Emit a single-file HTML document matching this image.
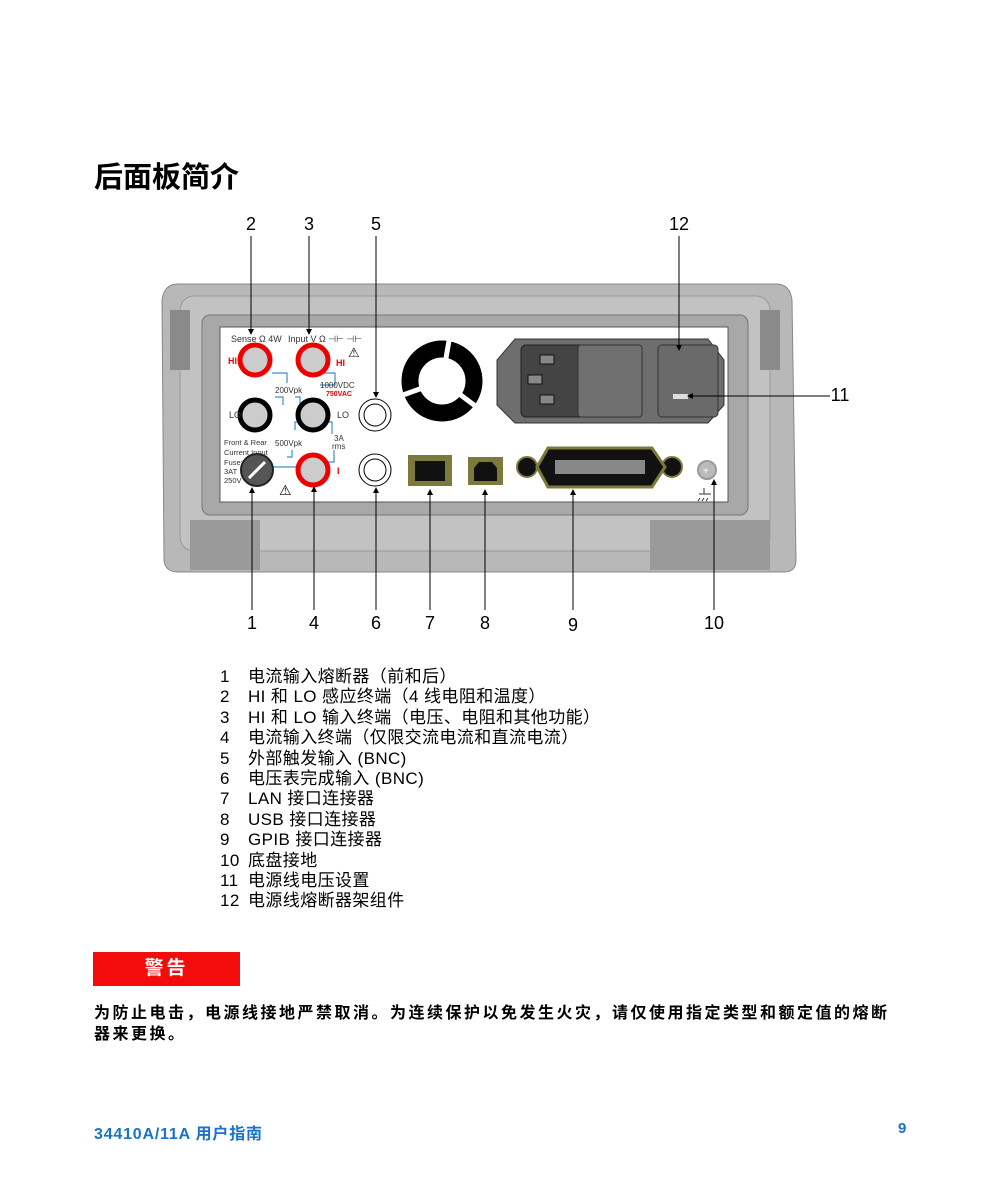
<!DOCTYPE html>
<html><head><meta charset="utf-8"><style>
body{margin:0;background:#fff;width:1000px;height:1200px;position:relative;overflow:hidden;font-family:"Liberation Sans","Noto Sans CJK SC",sans-serif}
.t{position:absolute}
.list{position:absolute;left:220px;top:667px;font-size:17px;line-height:20.4px;letter-spacing:0.4px;font-family:"Liberation Sans Narrow","Liberation Sans","Noto Sans CJK SC",sans-serif}
.list div span{display:inline-block;width:28px}
</style></head><body>
<div class="t" style="left:94px;top:154px;font-size:29px;font-weight:bold;font-family:'Noto Sans CJK SC',sans-serif">后面板简介</div>
<svg class="t" style="left:0;top:0" width="1000" height="650" font-family="Liberation Sans,sans-serif">
<defs><marker id="a" markerWidth="6" markerHeight="6" refX="3" refY="3" orient="auto"><path d="M0,0L6,3L0,6z" fill="#000"/></marker></defs>
<path d="M178,284 H776 Q790,284 792,300 L796,560 Q796,572 784,572 H178 Q165,572 164,560 L162,300 Q164,284 178,284Z" fill="#b8b8b8" stroke="#888"/>
<rect x="180" y="296" width="590" height="255" rx="14" fill="#c2c2c2" stroke="#999"/>
<rect x="202" y="315" width="546" height="200" rx="8" fill="#a8a8a8" stroke="#777"/>
<rect x="220" y="327" width="508" height="175" fill="#fff" stroke="#556" />
<rect x="190" y="520" width="70" height="50" fill="#9a9a9a"/><rect x="650" y="520" width="120" height="50" fill="#9a9a9a"/>
<rect x="170" y="310" width="20" height="60" fill="#8a8a8a"/><rect x="760" y="310" width="20" height="60" fill="#8a8a8a"/>
<text x="231" y="342" font-size="9" fill="#333">Sense  Ω 4W</text>
<text x="288" y="342" font-size="9" fill="#333">Input  V Ω ⊣⊢ ⊣⊢</text>
<text x="348" y="357" font-size="13">⚠</text>
<g stroke="#3a8fd0" fill="none" stroke-width="1.2"><path d="M272,373h15v10M283,405v-8h-8M295,397h5v8M322,373h13v12h-15M295,430v-8h8M320,422h12v12M287,457h5v-7M328,462h6v-12M272,467h25"/></g>
<circle cx="255" cy="360" r="15" fill="#ccc" stroke="#e00" stroke-width="5"/>
<circle cx="313" cy="360" r="15" fill="#ccc" stroke="#e00" stroke-width="5"/>
<circle cx="255" cy="415" r="15" fill="#ccc" stroke="#000" stroke-width="5"/>
<circle cx="313" cy="415" r="15" fill="#ccc" stroke="#000" stroke-width="5"/>
<circle cx="313" cy="470" r="15" fill="#ccc" stroke="#e00" stroke-width="5"/>
<circle cx="257" cy="470" r="16" fill="#555" stroke="#222" stroke-width="2"/><line x1="249" y1="478" x2="265" y2="462" stroke="#fff" stroke-width="3"/>
<text x="228" y="364" font-size="9" fill="#e00" font-weight="bold">HI</text><text x="336" y="366" font-size="9" fill="#e00" font-weight="bold">HI</text>
<text x="229" y="418" font-size="9" fill="#333">LO</text><text x="337" y="418" font-size="9" fill="#333">LO</text>
<text x="337" y="474" font-size="9" fill="#e00" font-weight="bold">I</text>
<text x="275" y="393" font-size="8" fill="#333">200Vpk</text>
<text x="320" y="388" font-size="8" fill="#333">1000VDC</text><text x="326" y="396" font-size="7" fill="#e00" font-weight="bold">750VAC</text>
<text x="275" y="446" font-size="8" fill="#333">500Vpk</text>
<text x="334" y="441" font-size="8" fill="#333">3A</text><text x="332" y="449" font-size="8" fill="#333">rms</text>
<text x="224" y="445" font-size="7.5" fill="#333">Front &amp; Rear</text><text x="224" y="455" font-size="7.5" fill="#333">Current Input</text>
<text x="224" y="465" font-size="7.5" fill="#333">Fuse:</text><text x="224" y="474" font-size="7.5" fill="#333">3AT</text><text x="224" y="483" font-size="7.5" fill="#333">250V</text>
<text x="279" y="495" font-size="14">⚠</text>
<g fill="#fff" stroke="#000"><circle cx="375" cy="415" r="16"/><circle cx="375" cy="415" r="11"/><circle cx="375" cy="470" r="16"/><circle cx="375" cy="470" r="11"/></g>
<circle cx="442" cy="381" r="32" fill="none" stroke="#000" stroke-width="17"/>
<g stroke="#fff" stroke-width="5"><line x1="442" y1="381" x2="450" y2="335"/><line x1="442" y1="381" x2="403" y2="395"/><line x1="442" y1="381" x2="478" y2="408"/></g>
<path d="M515,339H708L724,360V405L708,423H515L497,405V360Z" fill="#6e6e6e" stroke="#333"/>
<rect x="521" y="345" width="63" height="72" rx="5" fill="#444" stroke="#222"/>
<g fill="#888" stroke="#111"><rect x="540" y="355" width="14" height="9"/><rect x="528" y="375" width="14" height="9"/><rect x="540" y="395" width="14" height="9"/></g>
<rect x="578" y="345" width="64" height="72" rx="3" fill="#707070" stroke="#333"/>
<rect x="658" y="345" width="60" height="72" rx="4" fill="#6a6a6a" stroke="#333"/>
<rect x="673" y="394" width="15" height="5" fill="#ddd"/>
<rect x="408" y="455" width="44" height="31" fill="#7b7a3b"/><rect x="415" y="461" width="30" height="20" fill="#111"/>
<rect x="468" y="457" width="35" height="28" fill="#7b7a3b"/><path d="M474,481V468L479,462H492L497,468V481Z" fill="#111"/>
<circle cx="527" cy="467" r="10" fill="#111" stroke="#7b7a3b" stroke-width="2"/><circle cx="672" cy="467" r="10" fill="#111" stroke="#7b7a3b" stroke-width="2"/>
<path d="M548,448H652L665,467L652,487H548L537,467Z" fill="#111" stroke="#7b7a3b" stroke-width="3"/>
<rect x="555" y="460" width="90" height="14" fill="#888"/>
<circle cx="707" cy="470" r="9" fill="#bbb" stroke="#999" stroke-width="2"/><text x="703" y="474" font-size="10" fill="#fff">+</text>
<path d="M704,488v6M699,494h12M700,498l-2,3M704,498l-2,3M708,498l-2,3" stroke="#333" fill="none"/>
<g stroke="#000" stroke-width="1" marker-end="url(#a)">
<line x1="251" y1="236" x2="251" y2="332"/><line x1="309" y1="236" x2="309" y2="332"/><line x1="376" y1="236" x2="376" y2="395"/><line x1="679" y1="236" x2="679" y2="348"/>
<line x1="830" y1="396" x2="690" y2="396"/>
<line x1="252" y1="610" x2="252" y2="490"/><line x1="314" y1="610" x2="314" y2="489"/><line x1="376" y1="610" x2="376" y2="490"/><line x1="430" y1="610" x2="430" y2="492"/><line x1="485" y1="610" x2="485" y2="492"/><line x1="573" y1="610" x2="573" y2="492"/><line x1="714" y1="610" x2="714" y2="482"/>
</g>
<g font-size="18" text-anchor="middle" font-family="Liberation Sans Narrow,Liberation Sans,sans-serif">
<text x="251" y="230">2</text><text x="309" y="230">3</text><text x="376" y="230">5</text><text x="679" y="230">12</text><text x="840" y="401">11</text>
<text x="252" y="629">1</text><text x="314" y="629">4</text><text x="376" y="629">6</text><text x="430" y="629">7</text><text x="485" y="629">8</text><text x="573" y="631">9</text><text x="714" y="629">10</text>
</g>
</svg>
<div class="list">
<div><span>1</span>电流输入熔断器（前和后）</div>
<div><span>2</span>HI 和 LO 感应终端（4 线电阻和温度）</div>
<div><span>3</span>HI 和 LO 输入终端（电压、电阻和其他功能）</div>
<div><span>4</span>电流输入终端（仅限交流电流和直流电流）</div>
<div><span>5</span>外部触发输入 (BNC)</div>
<div><span>6</span>电压表完成输入 (BNC)</div>
<div><span>7</span>LAN 接口连接器</div>
<div><span>8</span>USB 接口连接器</div>
<div><span>9</span>GPIB 接口连接器</div>
<div><span>10</span>底盘接地</div>
<div><span>11</span>电源线电压设置</div>
<div><span>12</span>电源线熔断器架组件</div>
</div>
<div class="t" style="left:93px;top:952px;width:147px;height:34px;background:#f20c0c;color:#fff;font-weight:bold;font-size:19px;line-height:34px;text-align:center;letter-spacing:3px">警告</div>
<div class="t" style="left:94px;top:1001px;width:880px;font-size:16px;font-weight:bold;line-height:21px;letter-spacing:2.5px;font-family:'Noto Sans CJK SC',sans-serif">为防止电击，电源线接地严禁取消。为连续保护以免发生火灾，请仅使用指定类型和额定值的熔断<br>器来更换。</div>
<div class="t" style="left:94px;top:1120px;font-size:16px;font-weight:bold;color:#1a73c8;letter-spacing:0.8px;font-family:'Liberation Sans Narrow','Liberation Sans','Noto Sans CJK SC',sans-serif">34410A/11A 用户指南</div>
<div class="t" style="left:898px;top:1120px;font-size:15px;font-weight:bold;color:#1a73c8">9</div>
</body></html>
